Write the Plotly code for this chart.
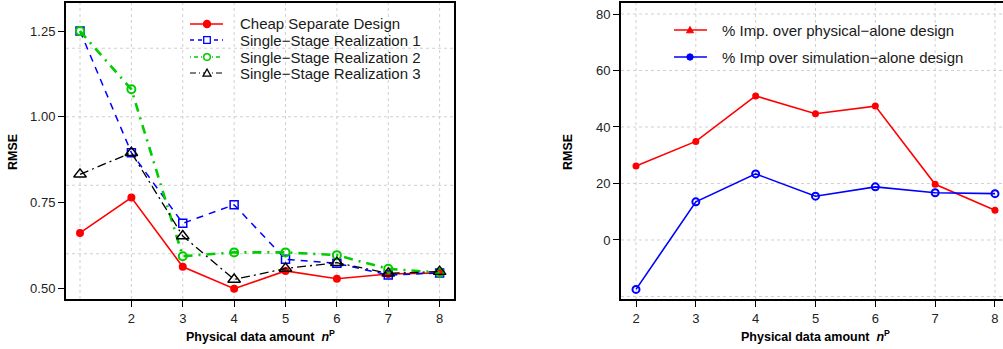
import plotly.graph_objects as go

# ---------------- data ----------------
n_left = [1, 2, 3, 4, 5, 6, 7, 8]
cheap_separate = [0.661, 0.764, 0.562, 0.498, 0.550, 0.527, 0.541, 0.544]
single_stage_1 = [1.250, 0.895, 0.689, 0.743, 0.584, 0.572, 0.538, 0.544]
single_stage_2 = [1.250, 1.080, 0.593, 0.604, 0.604, 0.596, 0.556, 0.545]
single_stage_3 = [0.832, 0.895, 0.652, 0.525, 0.557, 0.574, 0.543, 0.548]

n_right = [2, 3, 4, 5, 6, 7, 8]
imp_physical = [26.2, 34.9, 51.0, 44.7, 47.4, 19.7, 10.5]
imp_simulation = [-17.5, 13.5, 23.4, 15.5, 18.8, 16.7, 16.4]

left_names = ["Cheap Separate Design", "Single\u2212Stage Realization 1",
              "Single\u2212Stage Realization 2", "Single\u2212Stage Realization 3"]
right_names = ["% Imp. over physical\u2212alone design", "% Imp over simulation\u2212alone design"]

left_yticks = [0.50, 0.75, 1.00, 1.25]
left_yticklabels = ["0.50", "0.75", "1.00", "1.25"]
left_xticks = [2, 3, 4, 5, 6, 7, 8]
left_ygrid = [0.6, 0.8, 1.0, 1.2]
left_xgrid = [1, 2, 3, 4, 5, 6, 7, 8]
right_yticks = [0, 20, 40, 60, 80]
right_xticks = [2, 3, 4, 5, 6, 7, 8]
right_ygrid = [-20, 0, 20, 40, 60, 80]
right_xgrid = [2, 3, 4, 5, 6, 7, 8]

xlabel = "<b>Physical data amount\u00a0 <i>n</i><sup>P</sup></b>"
ylabel = "<b>RMSE</b>"

# ---------------- layout helpers ----------------
W, H = 1003, 349
def PX(p):
    return p / W
def PY(p):
    return 1 - p / H

RED = "#FF0000"
BLUE = "#0000FF"
GREEN = "#00CD00"
BLACK = "#000000"
FONT = "Liberation Sans, Arial, sans-serif"

fig = go.Figure()

# left panel traces
fig.add_trace(go.Scatter(x=n_left, y=cheap_separate, mode="lines+markers", xaxis="x", yaxis="y",
                         line=dict(color=RED, width=1.6),
                         marker=dict(symbol="circle", size=8, color=RED), showlegend=False))
fig.add_trace(go.Scatter(x=n_left, y=single_stage_1, mode="lines+markers", xaxis="x", yaxis="y",
                         line=dict(color=BLUE, width=1.5, dash="7px,6px"),
                         marker=dict(symbol="square-open", size=8, color=BLUE, line=dict(width=1.5)),
                         showlegend=False))
fig.add_trace(go.Scatter(x=n_left, y=single_stage_2, mode="lines+markers", xaxis="x", yaxis="y",
                         line=dict(color=GREEN, width=2.6, dash="9px,6px,2px,6px"),
                         marker=dict(symbol="circle-open", size=8, color=GREEN, line=dict(width=2)),
                         showlegend=False))
fig.add_trace(go.Scatter(x=n_left, y=single_stage_3, mode="lines+markers", xaxis="x", yaxis="y",
                         line=dict(color=BLACK, width=1.3, dash="9px,4px,2px,4px"),
                         marker=dict(symbol="triangle-up-open", size=11, color=BLACK, line=dict(width=1.4)),
                         showlegend=False))

# right panel traces
fig.add_trace(go.Scatter(x=n_right, y=imp_physical, mode="lines+markers", xaxis="x2", yaxis="y2",
                         line=dict(color=RED, width=1.6),
                         marker=dict(symbol="circle", size=7, color=RED), showlegend=False))
fig.add_trace(go.Scatter(x=n_right, y=imp_simulation, mode="lines+markers", xaxis="x2", yaxis="y2",
                         line=dict(color=BLUE, width=1.6),
                         marker=dict(symbol="circle-open", size=7, color=BLUE, line=dict(width=2)),
                         showlegend=False))

# ---------------- axes ----------------
yd = [PY(299), PY(3)]
ax_common = dict(showgrid=False, zeroline=False, linecolor="black", linewidth=2,
                 ticks="outside", ticklen=6, tickwidth=1.2, tickcolor="black",
                 tickfont=dict(family=FONT, size=13, color="#222"))

shapes = []
annotations = []

fig.update_layout(
    xaxis=dict(domain=[PX(66), PX(454)], range=[0.727, 8.28], anchor="y", mirror=True,
               tickvals=left_xticks, **ax_common),
    yaxis=dict(domain=yd, range=[0.468, 1.332], anchor="x", mirror=True,
               tickvals=left_yticks, ticktext=left_yticklabels, **ax_common),
    xaxis2=dict(domain=[PX(621), 1.0], range=[1.7493, 8.134], anchor="y2", mirror=True,
                tickvals=right_xticks, **ax_common),
    yaxis2=dict(domain=yd, range=[-20.9, 83.9], anchor="x2", mirror=False,
                tickvals=right_yticks, **ax_common),
)

grid_style = dict(color="#D0D0D0", width=1, dash="dot")
for g in left_ygrid:
    shapes.append(dict(type="line", xref="x domain", yref="y", x0=0, x1=1, y0=g, y1=g,
                       line=grid_style, layer="below"))
for g in left_xgrid:
    shapes.append(dict(type="line", xref="x", yref="y domain", x0=g, x1=g, y0=0, y1=1,
                       line=grid_style, layer="below"))
for g in right_ygrid:
    shapes.append(dict(type="line", xref="x2 domain", yref="y2", x0=0, x1=1, y0=g, y1=g,
                       line=grid_style, layer="below"))
for g in right_xgrid:
    shapes.append(dict(type="line", xref="x2", yref="y2 domain", x0=g, x1=g, y0=0, y1=1,
                       line=grid_style, layer="below"))

# axis titles
for cx in (13, 568):
    annotations.append(dict(x=PX(cx), y=PY(152), xref="paper", yref="paper", text=ylabel,
                            textangle=-90, showarrow=False, xanchor="center", yanchor="middle",
                            font=dict(family=FONT, size=12.5, color="black")))
for cx in (260, 815):
    annotations.append(dict(x=PX(cx), y=PY(336), xref="paper", yref="paper", text=xlabel,
                            showarrow=False, xanchor="center", yanchor="middle",
                            font=dict(family=FONT, size=12.5, color="black")))

# ---------------- legends (drawn manually) ----------------
def leg_line(x0, x1, y, color, width, dash):
    shapes.append(dict(type="line", xref="paper", yref="paper", x0=PX(x0), x1=PX(x1),
                       y0=PY(y), y1=PY(y), line=dict(color=color, width=width, dash=dash)))

def leg_circle(cx, cy, r, color, filled, lw=1.5):
    shapes.append(dict(type="circle", xref="paper", yref="paper",
                       x0=PX(cx - r), x1=PX(cx + r), y0=PY(cy + r), y1=PY(cy - r),
                       line=dict(color=color, width=lw),
                       fillcolor=color if filled else "white"))

def leg_square(cx, cy, r, color):
    shapes.append(dict(type="rect", xref="paper", yref="paper",
                       x0=PX(cx - r), x1=PX(cx + r), y0=PY(cy + r), y1=PY(cy - r),
                       line=dict(color=color, width=1.3), fillcolor="white"))

def leg_triangle(cx, cy, r, color, filled, lw=1.3):
    path = "M {} {} L {} {} L {} {} Z".format(PX(cx - r), PY(cy + r * 0.8), PX(cx + r), PY(cy + r * 0.8),
                                             PX(cx), PY(cy - r))
    shapes.append(dict(type="path", xref="paper", yref="paper", path=path,
                       line=dict(color=color, width=lw),
                       fillcolor=color if filled else "white"))

def leg_text(x, y, text):
    annotations.append(dict(x=PX(x), y=PY(y), xref="paper", yref="paper", text=text,
                            showarrow=False, xanchor="left", yanchor="middle",
                            font=dict(family=FONT, size=15, color="#1a1a1a")))

rows_left = [24, 40, 57, 73]
lx0, lx1, lmx, ltx = 190, 223, 207, 238
leg_line(lx0, lx1, rows_left[0], RED, 1.6, "solid")
leg_circle(lmx, rows_left[0], 3.5, RED, True)
leg_line(lx0, lx1, rows_left[1], BLUE, 1.5, "4px,4px")
leg_square(lmx, rows_left[1], 3.3, BLUE)
leg_line(lx0, lx1, rows_left[2], GREEN, 1.5, "1px,3px,4px,3px")
leg_circle(lmx, rows_left[2], 3.3, GREEN, False, 1.5)
leg_line(lx0, lx1, rows_left[3], BLACK, 1.2, "6px,3px,1px,3px")
leg_triangle(lmx, rows_left[3], 4, BLACK, False)
for r, t in zip(rows_left, left_names):
    leg_text(ltx, r, t)

rows_right = [30, 57]
rx0, rx1, rmx, rtx = 674, 707, 690, 720
leg_line(rx0, rx1, rows_right[0], RED, 1.6, "solid")
leg_triangle(rmx, rows_right[0], 3.5, RED, True, 1)
leg_line(rx0, rx1, rows_right[1], BLUE, 1.6, "solid")
leg_circle(rmx, rows_right[1], 3.2, BLUE, True, 1)
for r, t in zip(rows_right, right_names):
    leg_text(rtx, r, t)

fig.update_layout(
    width=W, height=H,
    margin=dict(l=0, r=0, t=0, b=0),
    paper_bgcolor="white", plot_bgcolor="white",
    showlegend=False,
    shapes=shapes, annotations=annotations,
    font=dict(family=FONT),
)

fig.write_html("out.html",
               config={"displayModeBar": False},
               post_script="document.body.style.margin='0';document.body.style.overflow='hidden';")
